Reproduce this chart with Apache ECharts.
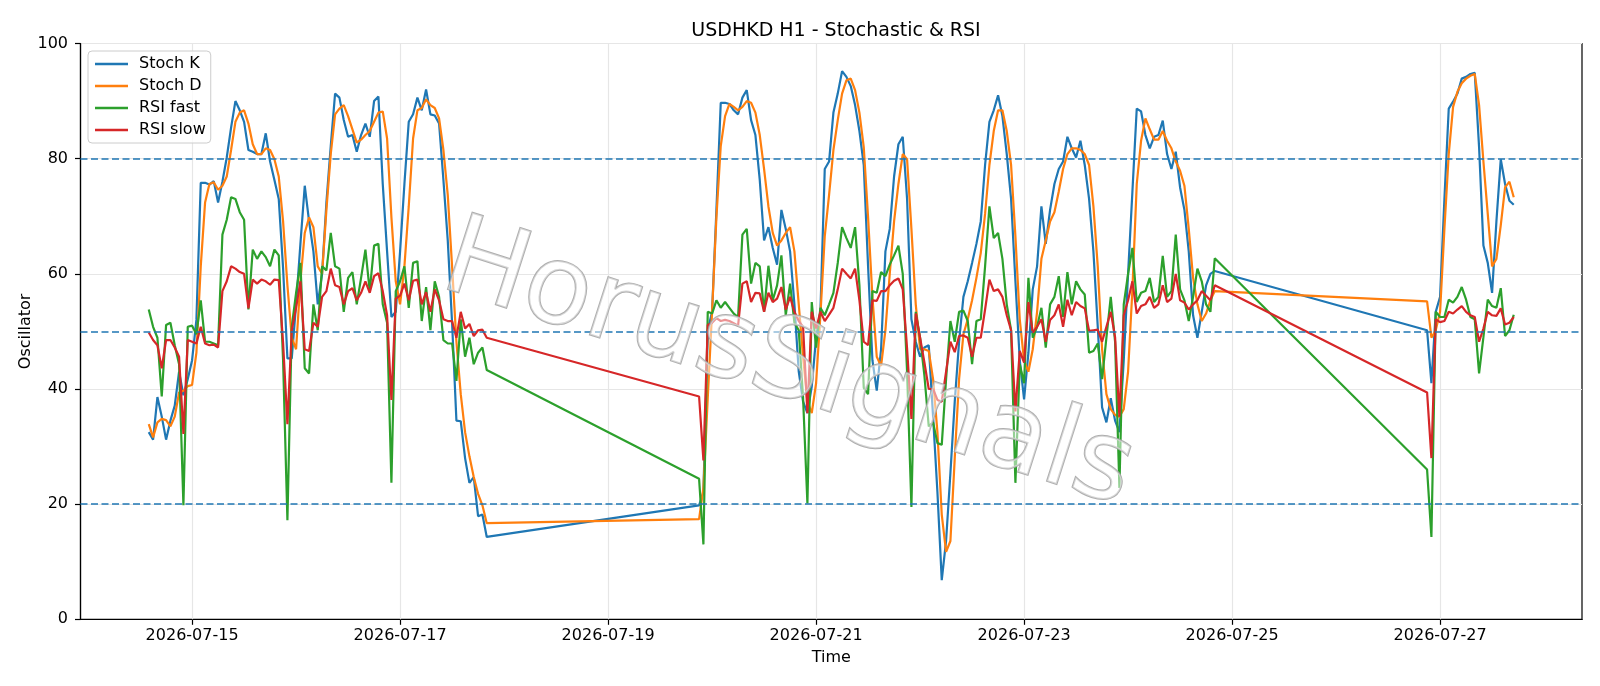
<!DOCTYPE html>
<html>
<head>
<meta charset="utf-8">
<script src="https://cdn.jsdelivr.net/npm/echarts@6/dist/echarts.min.js"></script>
<style>
  html, body { margin: 0; padding: 0; background: #fff; }
  #chart { width: 1600px; height: 686px; }
</style>
</head>
<body>
<div id="chart"></div>
<script>
// hourly bars, three trading sessions (weekend gaps in between)
const sessionStarts = ['2026-07-14T14:00', '2026-07-19T21:00', '2026-07-26T21:00'];
const tickDates = ['2026-07-15T00:00', '2026-07-17T00:00', '2026-07-19T00:00', '2026-07-21T00:00',
  '2026-07-23T00:00', '2026-07-25T00:00', '2026-07-27T00:00'];
const levels = [80, 50, 20];

const stochK = [
  [32.5, 31.2, 38.6, 35.2, 31.2, 34.5, 37.1, 43, 38.9, 41.7,
   45, 52, 75.8, 75.8, 75.5, 76.1, 72.4, 76, 80.2, 85.4,
   90, 88.4, 86.4, 81.5, 81.2, 80.8, 80.8, 84.4, 79.5, 76.3,
   73, 61, 45.3, 45.3, 54.7, 65.2, 75.3, 69.1, 63.9, 54.7,
   60, 72.4, 82.2, 91.3, 90.6, 86.7, 83.8, 84.1, 81.2, 84.1,
   86.1, 83.8, 90, 90.8, 75.6, 63.9, 52.5, 53.4, 63.9, 75.6,
   86.4, 87.7, 90.6, 88.4, 92, 87.7, 87.5, 86.1, 76.3, 65.8,
   51.5, 34.5, 34.4, 28, 23.7, 24.7, 17.9, 18.2, 14.3],
  [19.8, 22.1, 50.2, 53.4, 71.1, 89.7, 89.7, 89.5, 88.4, 87.7,
   90.6, 91.9, 86.7, 84.1, 76.3, 65.8, 68.1, 64.5, 61.6, 71.1,
   67.8, 63.9, 54.7, 43, 37.8, 35.8, 40.4, 48.9, 53.4, 78.2,
   79.5, 88, 91.3, 95.2, 94.2, 92.6, 89.3, 84.8, 78.9, 61.3,
   45, 39.7, 46.9, 63.9, 67.8, 76.9, 82.5, 83.8, 73, 52.1,
   48.2, 45.6, 47.2, 47.6, 35.2, 22.1, 6.8, 13.6, 25.4, 37.8,
   48.2, 56, 58.7, 61.9, 65.2, 69.1, 78.9, 86.4, 88.4, 91,
   87.4, 80.8, 73, 58.7, 45, 38.2, 46.3, 57.3, 61.3, 71.7,
   65.2, 71.1, 75.6, 78.2, 79.5, 83.8, 81.8, 80.2, 83.1, 78.9,
   73, 63.9, 50.8, 36.8, 34.2, 38.4, 34.5, 32.5, 45, 60,
   74.3, 88.7, 88.2, 84.1, 81.8, 83.8, 84.1, 86.6, 80.8, 78.2,
   81.2, 75, 71.1, 63.9, 52.8, 48.9, 53.4, 58, 60, 60.5],
  [50.2, 41, 53.4, 56, 73, 88.7, 89.9, 91.3, 93.9, 94.2,
   94.7, 94.9, 82, 64.9, 61.9, 56.7, 69.1, 79.9, 75.6, 72.7, 72]
];

const stochD = [
  [33.9, 31.6, 34.2, 34.8, 34.6, 33.5, 35.2, 39.4, 39.7, 40.5,
   40.7, 46.3, 61.3, 72.4, 75.6, 75.9, 74.6, 75.3, 76.9, 81.5,
   86.4, 88, 88.4, 86.1, 82.5, 80.8, 80.8, 81.8, 81.5, 79.9,
   76.9, 69.1, 58, 48.9, 46.9, 58.7, 67.1, 69.8, 68.1, 61.3,
   60, 71.1, 80.8, 87.7, 88.7, 89.3, 87.4, 85.1, 82.8, 83.3,
   84.1, 84.8, 86.4, 88, 88.2, 83.5, 69.8, 58.7, 54.7, 61.3,
   71.7, 83.5, 88.4, 88.8, 90.3, 89.3, 88.8, 87, 81.5, 73.7,
   61.3, 48.2, 39.1, 32.5, 28.3, 24.7, 21.8, 19.8, 16.7],
  [17.4, 22.8, 38.4, 53.4, 69.8, 82.2, 87.4, 89.5, 89, 88.4,
   89, 90, 89.7, 88, 84.1, 78.2, 71.7, 67.1, 64.9, 65.8,
   67.1, 68.1, 63.9, 54.7, 45.6, 37.8, 35.8, 41, 52.8, 66.5,
   73.7, 81.5, 86.7, 91.3, 93.6, 93.9, 91.9, 88, 82, 69.8,
   56, 45.6, 44, 50.2, 60, 69.1, 75.6, 80.8, 79.9, 67.8,
   54.7, 46.9, 46.9, 46.6, 41.7, 32.5, 18.2, 11.7, 13.6, 28,
   41.7, 49.5, 52.1, 55.4, 59.3, 63.6, 70.4, 78.9, 84.8, 88.4,
   88.4, 84.8, 78.9, 66.5, 52.1, 44.9, 43, 46.9, 53.4, 62.6,
   65.8, 69.1, 70.7, 74.3, 78.2, 80.8, 81.8, 81.8, 81.5, 80.8,
   78.9, 71.7, 61.3, 46.9, 39.1, 36.5, 35.5, 35.2, 36.5, 43,
   57.3, 75.6, 83.1, 87, 85.1, 83.3, 83.3, 84.8, 83.1, 81.8,
   79.5, 77.9, 75.3, 67.8, 59.3, 54.7, 51.8, 53.1, 55.4, 57],
  [55.2, 48.9, 50.2, 53.4, 67.8, 80.8, 89, 91.6, 93.1, 93.9,
   94.4, 94.7, 89.3, 79.5, 70.4, 61.3, 62.6, 68.4, 75, 76, 73.3]
];

const rsiFast = [
  [53.8, 50.8, 48.9, 38.7, 51.1, 51.5, 47.6, 44.3, 19.8, 50.8,
   51, 49.5, 55.4, 48.2, 48.2, 47.9, 47.6, 66.8, 69.4, 73.3,
   73, 70.7, 69.4, 53.8, 64.2, 62.6, 63.9, 62.9, 61.3, 64.2,
   63.2, 45, 17.2, 50.8, 56.7, 61.9, 43.6, 42.7, 54.7, 50.2,
   61.3, 60.6, 67.1, 61.3, 60.9, 53.4, 59.3, 60.3, 54.7, 59.3,
   64.2, 57, 64.9, 65.2, 54.7, 51.5, 23.7, 57, 58.7, 61.3,
   54.1, 61.9, 62.2, 51.8, 57.7, 50.2, 58.7, 56, 48.5, 47.9,
   47.9, 41.4, 52.1, 45.6, 48.9, 44.3, 46.3, 47.2, 43.3],
  [24.4, 13, 53.4, 53.1, 55.4, 54.1, 55.1, 54.1, 53.1, 52.5,
   66.8, 67.8, 58.3, 61.9, 61.3, 53.4, 61.4, 55.4, 58, 63.2,
   52.8, 58.3, 51.5, 50.2, 38.4, 20.1, 55.1, 47.2, 54.1, 52.8,
   54.7, 56.7, 61.9, 68.1, 66.2, 64.5, 68.1, 58, 40.2, 39.1,
   57, 56.7, 60.3, 59.6, 61.6, 63.2, 64.9, 60, 43, 19.5,
   53.4, 48.9, 42.3, 33.5, 34.2, 30.6, 30.3, 41.7, 51.8, 48.2,
   53.4, 53.6, 51.8, 44.3, 51.8, 52.1, 61.3, 71.7, 66.2, 67.1,
   62.6, 54.7, 50.2, 23.7, 44.3, 41, 59.3, 48.9, 50.8, 54.1,
   47.2, 54.7, 56, 59.6, 52.5, 60.3, 54.7, 58.7, 57.3, 56.4,
   46.3, 46.6, 47.9, 41.7, 48.9, 56, 48.2, 22.8, 54.7, 60,
   64.5, 55.1, 56.7, 57, 59.3, 55.1, 56, 63.1, 56, 57,
   66.8, 57.3, 55.4, 51.8, 56, 60.9, 58.7, 54.7, 53.4, 62.7],
  [26, 14.3, 53.4, 52.5, 52.5, 55.5, 55, 56, 57.7, 55.5,
   52.5, 52.1, 42.7, 49, 55.5, 54.4, 54.1, 57.5, 49.2, 50.2, 52.9]
];

const rsiSlow = [
  [49.8, 48.5, 47.6, 43.6, 48.5, 48.5, 47.2, 45.6, 32.2, 48.5,
   48.2, 47.9, 50.8, 47.9, 47.6, 47.7, 47.2, 57, 58.7, 61.3,
   60.9, 60.3, 60, 54, 59, 58.3, 59, 58.7, 58.1, 59,
   58.9, 48, 33.9, 50.2, 54.1, 58.7, 46.9, 46.6, 51.5, 50.8,
   56, 57, 60.9, 58, 57.7, 54.7, 57, 57.5, 55.4, 56.7,
   58.7, 56.7, 59.6, 60.1, 57, 52.8, 38.1, 55.7, 56.2, 58.3,
   55.4, 58.8, 59, 54.7, 56.8, 53.4, 57.3, 55.4, 52.1, 51.8,
   51.8, 48.9, 53.4, 50.5, 51.3, 49.2, 50.2, 50.3, 48.9],
  [38.7, 27.6, 51.1, 51.5, 52.3, 51.8, 52, 51.8, 51.4, 51,
   58.3, 58.7, 55.1, 56.7, 56.6, 53.4, 56.7, 55.1, 55.7, 57.7,
   53.8, 56, 53.4, 51.8, 50.8, 35.8, 53.4, 50.5, 53.4, 51.8,
   52.9, 54.1, 57.3, 60.9, 60, 59.2, 60.9, 55.4, 48.2, 47.6,
   55.4, 55.3, 57, 57, 58, 58.8, 59.2, 57.3, 47, 34.8,
   53.1, 48.9, 44.6, 40, 40, 38.1, 37.8, 43, 48.2, 46.4,
   49.2, 49.3, 48.9, 45.6, 48.9, 48.9, 53.8, 59, 57, 57.3,
   56, 52.8, 50.2, 36.1, 46.6, 44.6, 55.1, 49.8, 50.8, 52.1,
   48.2, 52, 52.8, 54.7, 50.8, 55.5, 52.8, 55.1, 54.4, 54,
   50.1, 50.2, 50.3, 48.2, 50.8, 53.4, 49, 35.2, 52.8, 55.4,
   58.7, 53.1, 54.4, 54.7, 56, 54.1, 54.7, 58, 55.1, 55.7,
   60, 55.4, 55, 53.8, 54.7, 55.4, 57, 56.2, 55.4, 58],
  [39.4, 28, 52.1, 51.6, 51.8, 53.4, 53.1, 53.8, 54.4, 53.4,
   52.8, 52.5, 48.2, 50.5, 53.4, 52.8, 52.7, 54, 51.2, 51.5, 52.5]
];

const HOUR = 3600 * 1000;
const FONT = '"DejaVu Sans", "Liberation Sans", sans-serif';

function toPoints(segments) {
  const out = [];
  segments.forEach((vals, s) => {
    const t0 = new Date(sessionStarts[s]).getTime();
    vals.forEach((v, i) => out.push([t0 + i * HOUR, v]));
  });
  return out;
}

function fmtDate(v) {
  const d = new Date(v);
  const p = (n) => String(n).padStart(2, '0');
  return d.getFullYear() + '-' + p(d.getMonth() + 1) + '-' + p(d.getDate());
}

const kData = toPoints(stochK);
const tFirst = kData[0][0];
const tLast = kData[kData.length - 1][0];
const pad = (tLast - tFirst) * 0.05;   // matplotlib-style autoscale margin
const tickTimes = tickDates.map((d) => new Date(d).getTime());

function lineSeries(name, data, color) {
  return {
    name,
    type: 'line',
    data,
    showSymbol: false,
    symbol: 'none',
    lineStyle: { color, width: 2.2 },
    itemStyle: { color },
  };
}

const chart = echarts.init(document.getElementById('chart'), null, { renderer: 'canvas' });

chart.setOption({
  animation: false,
  backgroundColor: '#ffffff',
  title: {
    text: 'USDHKD H1 - Stochastic & RSI',
    left: 831,
    textAlign: 'center',
    top: 17,
    textStyle: { fontFamily: FONT, fontSize: 19, fontWeight: 'normal', color: '#000' },
  },
  legend: {
    data: ['Stoch K', 'Stoch D', 'RSI fast', 'RSI slow'],
    orient: 'vertical',
    left: 88,
    top: 51,
    icon: 'rect',
    itemWidth: 33,
    itemHeight: 2.4,
    itemGap: 6,
    padding: [5, 5, 5, 7],
    backgroundColor: 'rgba(255,255,255,0.8)',
    borderColor: '#cccccc',
    borderWidth: 1,
    borderRadius: 4,
    textStyle: { fontFamily: FONT, fontSize: 16, lineHeight: 16, color: '#000', padding: [0, 0, 0, 6] },
  },
  grid: {
    left: 80.5, right: 18, top: 43.5, bottom: 66.7,
    show: true, borderColor: '#000', borderWidth: 1.2, backgroundColor: 'transparent',
  },
  xAxis: {
    type: 'value',
    min: tFirst - pad,
    max: tLast + pad,
    name: 'Time',
    nameLocation: 'middle',
    nameGap: 31,
    nameMoveOverlap: false,
    nameTextStyle: { fontFamily: FONT, fontSize: 16, color: '#000' },
    axisLine: { show: true, lineStyle: { color: '#000', width: 1.2 } },
    axisTick: { show: true, length: 5.5, lineStyle: { color: '#000', width: 1.2 }, customValues: tickTimes },
    axisLabel: {
      customValues: tickTimes,
      margin: 9,
      fontFamily: FONT,
      fontSize: 16,
      color: '#000',
      formatter: (v) => fmtDate(v),
    },
    splitLine: { show: false },
  },
  yAxis: {
    type: 'value',
    min: 0,
    max: 100,
    interval: 20,
    name: 'Oscillator',
    nameLocation: 'middle',
    nameGap: 47,
    nameMoveOverlap: false,
    nameTextStyle: { fontFamily: FONT, fontSize: 16, color: '#000' },
    axisLine: { show: true, lineStyle: { color: '#000', width: 1.2 } },
    axisTick: { show: true, length: 5.5, lineStyle: { color: '#000', width: 1.2 } },
    axisLabel: { margin: 12.5, fontFamily: FONT, fontSize: 16, color: '#000' },
    splitLine: { show: true, lineStyle: { color: '#e6e6e6', width: 1.2 } },
  },
  graphic: [
    {
      type: 'text',
      x: 788,
      y: 368,
      rotation: -0.31,
      z: 100,
      silent: true,
      style: {
        text: 'HorusSignals',
        font: '110px ' + FONT,
        textAlign: 'center',
        textVerticalAlign: 'middle',
        fill: 'rgba(255,255,255,0.5)',
        stroke: 'rgba(165,165,165,0.9)',
        lineWidth: 2,
        shadowColor: 'rgba(0,0,0,0.35)',
        shadowBlur: 3,
        shadowOffsetX: 4,
        shadowOffsetY: 5,
      },
    },
  ],
  series: [
    {
      name: 'vgrid',
      type: 'line',
      data: [],
      silent: true,
      markLine: {
        silent: true,
        symbol: 'none',
        z: 1,
        label: { show: false },
        lineStyle: { color: '#e6e6e6', width: 1.2, type: 'solid' },
        data: tickTimes.map((t) => ({ xAxis: t })),
      },
    },
    lineSeries('Stoch K', kData, '#1f77b4'),
    lineSeries('Stoch D', toPoints(stochD), '#ff7f0e'),
    lineSeries('RSI fast', toPoints(rsiFast), '#2ca02c'),
    lineSeries('RSI slow', toPoints(rsiSlow), '#d62728'),
    {
      name: 'levels',
      type: 'line',
      data: [],
      silent: true,
      markLine: {
        silent: true,
        symbol: 'none',
        label: { show: false },
        lineStyle: { color: '#1f77b4', width: 1.5, type: [7, 3.5] },
        data: levels.map((v) => ({ yAxis: v })),
      },
    },
  ],
});

window.addEventListener('resize', () => chart.resize());
</script>
</body>
</html>
